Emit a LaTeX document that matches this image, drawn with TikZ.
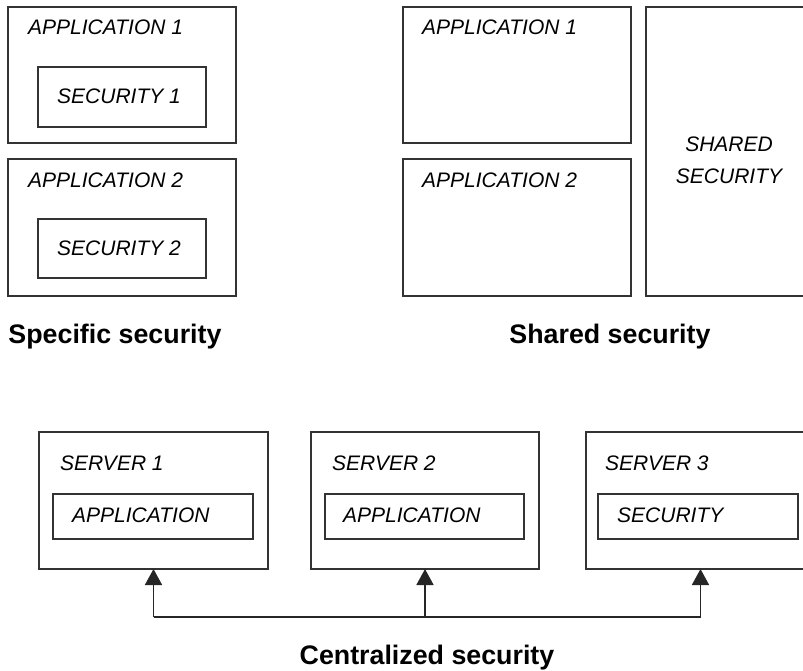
\documentclass[tikz,border=0pt]{standalone}
\usepackage{fontspec}
\setmainfont{Liberation Sans}
\usetikzlibrary{arrows.meta}
\begin{document}
\begin{tikzpicture}[x=1pt,y=-1pt,
  box/.style={draw=black!80, line width=1.2pt, inner sep=0pt, outer sep=0pt, anchor=north west},
  lbl/.style={font=\fontsize{21}{32}\selectfont\itshape, inner sep=0pt, anchor=base west},
  ttl/.style={font=\fontsize{26.8}{30}\selectfont\bfseries, inner sep=0pt, anchor=base},
  conn/.style={draw=black!85, line width=1.7pt},
  tip/.style={-{Triangle[width=17pt,length=16pt]}}]
\useasboundingbox (0,0) rectangle (803,670);
\clip (0,0) rectangle (803,670);
% ---- Specific security
\node[box, minimum width=228pt, minimum height=136pt] (a1) at (8,7) {};
\node[box, minimum width=168pt, minimum height=60pt] (sec1) at (38,67) {};
\node[lbl] (a1t) at (28,34) {APPLICATION 1};
\node[lbl] (sec1t) at (57,103) {SECURITY 1};
\node[box, minimum width=228pt, minimum height=137pt] (a2) at (8,159) {};
\node[box, minimum width=168pt, minimum height=59pt] (sec2) at (38,219) {};
\node[lbl] (a2t) at (28,187) {APPLICATION 2};
\node[lbl] (sec2t) at (57,255) {SECURITY 2};
\node[ttl] (t1) at (115,343) {Specific security};
% ---- Shared security
\node[box, minimum width=228pt, minimum height=136pt] (b1) at (403,7) {};
\node[lbl] (b1t) at (422,34) {APPLICATION 1};
\node[box, minimum width=228pt, minimum height=137pt] (b2) at (403,159) {};
\node[lbl] (b2t) at (422,187) {APPLICATION 2};
\node[box, minimum width=166pt, minimum height=289pt] (sh) at (646,7) {};
\node[lbl, anchor=base] (sht1) at (729,151) {SHARED};
\node[lbl, anchor=base] (sht2) at (729,183) {SECURITY};
\node[ttl] (t2) at (610,343) {Shared security};
% ---- Centralized security
\node[box, minimum width=229pt, minimum height=137pt] (s1) at (39,432) {};
\node[box, minimum width=200pt, minimum height=45pt] (i1) at (53,494) {};
\node[lbl] (s1t) at (60,470) {SERVER 1};
\node[lbl] (i1t) at (72,522) {APPLICATION};
\node[box, minimum width=228pt, minimum height=137pt] (s2) at (311,432) {};
\node[box, minimum width=199pt, minimum height=45pt] (i2) at (325,494) {};
\node[lbl] (s2t) at (332,470) {SERVER 2};
\node[lbl] (i2t) at (343,522) {APPLICATION};
\node[box, minimum width=229pt, minimum height=137pt] (s3) at (586,432) {};
\node[box, minimum width=200pt, minimum height=45pt] (i3) at (598,494) {};
\node[lbl] (s3t) at (605,470) {SERVER 3};
\node[lbl] (i3t) at (617,522) {SECURITY};
\coordinate (bus) at (0,617);
\coordinate (j1) at (s1.south |- bus);
\coordinate (j2) at (s2.south |- bus);
\coordinate (j3) at (s3.south |- bus);
\draw[conn, line join=miter] (j1) -- (j3);
\draw[conn, tip] (j1) -- (s1.south);
\draw[conn, tip] (j2) -- (s2.south);
\draw[conn, tip] (j3) -- (s3.south);
\node[ttl] (t3) at (427,664) {Centralized security};
\end{tikzpicture}
\end{document}
